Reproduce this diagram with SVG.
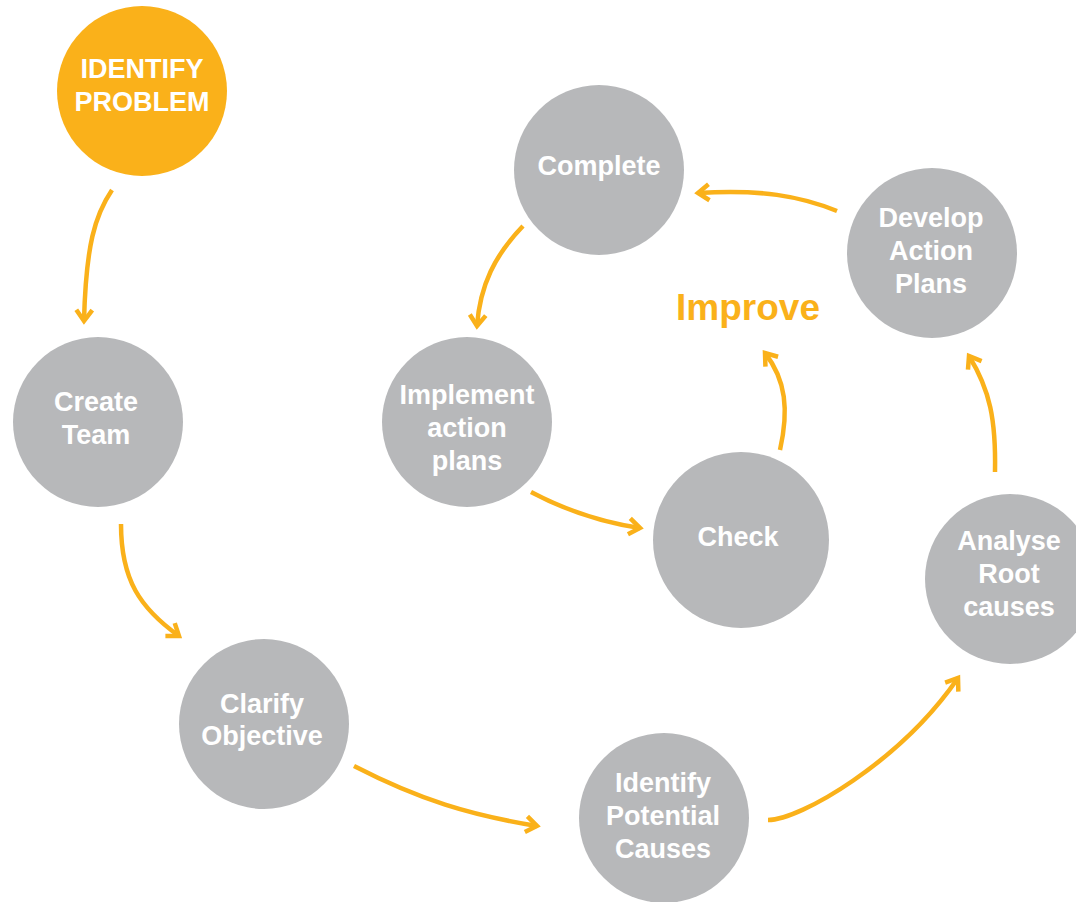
<svg xmlns="http://www.w3.org/2000/svg" width="1076" height="902" viewBox="0 0 1076 902">
<style>
.n{fill:#B7B8BA}
.s{fill:#FAB11A}
.t{font-family:"Liberation Sans",Arial,sans-serif;font-weight:bold;font-size:27px;fill:#FFFFFF;text-anchor:middle}
.c{fill:none;stroke:#FAB11A;stroke-width:4.5}
.imp{font-family:"Liberation Sans",Arial,sans-serif;font-weight:bold;font-size:37px;fill:#FAB11A;text-anchor:middle}
</style>
<defs>
<marker id="ah" markerUnits="userSpaceOnUse" viewBox="-16 -16 32 32" markerWidth="32" markerHeight="32" refX="0" refY="0" orient="auto" overflow="visible">
<path d="M-11,-8 L0,0 L-11,8" fill="none" stroke="#FAB11A" stroke-width="4.5"/>
</marker>
</defs>
<rect width="1076" height="902" fill="#FFFFFF"/>
<g id="connectors">
<path class="c" marker-end="url(#ah)" d="M112,190 C95,215 86,245 84,321"/>
<path class="c" marker-end="url(#ah)" d="M121,524 C121,580 140,608 179,636"/>
<path class="c" marker-end="url(#ah)" d="M354,766 C420,800 470,815 537,826"/>
<path class="c" marker-end="url(#ah)" d="M768,820 C800,820 900,762 958,678"/>
<path class="c" marker-end="url(#ah)" d="M995,472 C996,420 990,390 969,356"/>
<path class="c" marker-end="url(#ah)" d="M837,211 C800,196 760,189 698,193"/>
<path class="c" marker-end="url(#ah)" d="M523,226 C495,255 480,285 477,326"/>
<path class="c" marker-end="url(#ah)" d="M531,492 C565,510 600,522 640,528"/>
<path class="c" marker-end="url(#ah)" d="M780,450 C789,410 786,380 765,353"/>
</g>
<g id="identify-problem">
<circle class="s" cx="142" cy="91" r="85"/>
<text class="t" x="142" y="78">IDENTIFY</text>
<text class="t" x="142" y="111">PROBLEM</text>
</g>
<g id="create-team">
<circle class="n" cx="98" cy="422" r="85"/>
<text class="t" x="96" y="411">Create</text>
<text class="t" x="96" y="444">Team</text>
</g>
<g id="clarify-objective">
<circle class="n" cx="264" cy="724" r="85"/>
<text class="t" x="262" y="713">Clarify</text>
<text class="t" x="262" y="745">Objective</text>
</g>
<g id="identify-potential-causes">
<circle class="n" cx="664" cy="818" r="85"/>
<text class="t" x="663" y="792">Identify</text>
<text class="t" x="663" y="825">Potential</text>
<text class="t" x="663" y="858">Causes</text>
</g>
<g id="analyse-root-causes">
<circle class="n" cx="1010" cy="579" r="85"/>
<text class="t" x="1009" y="550">Analyse</text>
<text class="t" x="1009" y="583">Root</text>
<text class="t" x="1009" y="616">causes</text>
</g>
<g id="develop-action-plans">
<circle class="n" cx="932" cy="253" r="85"/>
<text class="t" x="931" y="227">Develop</text>
<text class="t" x="931" y="260">Action</text>
<text class="t" x="931" y="293">Plans</text>
</g>
<g id="complete">
<circle class="n" cx="599" cy="170" r="85"/>
<text class="t" x="599" y="175">Complete</text>
</g>
<g id="implement-action-plans">
<circle class="n" cx="467" cy="422" r="85"/>
<text class="t" x="467" y="404">Implement</text>
<text class="t" x="467" y="437">action</text>
<text class="t" x="467" y="470">plans</text>
</g>
<g id="check">
<circle class="n" cx="741" cy="540" r="88"/>
<text class="t" x="738" y="546">Check</text>
</g>
<g id="improve-label">
<text class="imp" x="748" y="320">Improve</text>
</g>
</svg>
